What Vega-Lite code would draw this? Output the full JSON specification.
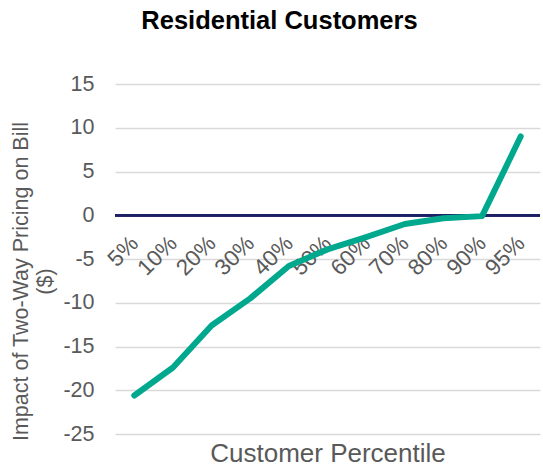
{
  "$schema": "https://vega.github.io/schema/vega-lite/v6.json",
  "width": 425,
  "height": 350,
  "autosize": {"type": "none"},
  "padding": {"left": 115, "top": 84, "right": 3, "bottom": 36},
  "background": "white",
  "config": {"font": "Liberation Sans", "view": {"stroke": null}},
  "title": {
    "text": "Residential Customers",
    "fontSize": 25.5,
    "fontWeight": "bold",
    "color": "#000000",
    "anchor": "middle",
    "frame": "bounds",
    "offset": 39,
    "dx": 4
  },
  "data": {
    "values": [
      {"percentile": "5%", "impact": -20.6},
      {"percentile": "10%", "impact": -17.4},
      {"percentile": "20%", "impact": -12.6},
      {"percentile": "30%", "impact": -9.5},
      {"percentile": "40%", "impact": -5.8},
      {"percentile": "50%", "impact": -3.9},
      {"percentile": "60%", "impact": -2.5},
      {"percentile": "70%", "impact": -1.0},
      {"percentile": "80%", "impact": -0.35},
      {"percentile": "90%", "impact": -0.1},
      {"percentile": "95%", "impact": 9.0}
    ]
  },
  "layer": [
    {
      "mark": {"type": "rule", "color": "#1c2166", "strokeWidth": 2},
      "encoding": {"y": {"datum": 0, "type": "quantitative"}}
    },
    {
      "mark": {
        "type": "line",
        "color": "#00a88e",
        "strokeWidth": 6,
        "strokeCap": "round",
        "strokeJoin": "round"
      },
      "encoding": {
        "x": {
          "field": "percentile",
          "type": "ordinal",
          "sort": null,
          "scale": {"type": "point", "padding": 0.5},
          "axis": {
            "title": "Customer Percentile",
            "titleFontSize": 26,
            "titleFontWeight": "normal",
            "titleColor": "#595959",
            "titleY": 246,
            "titleBaseline": "alphabetic",
            "offset": -218.5,
            "domain": false,
            "ticks": false,
            "tickSize": 0,
            "grid": false,
            "labelAngle": -45,
            "labelAlign": "right",
            "labelBaseline": "middle",
            "labelPadding": 24,
            "labelFontSize": 22.5,
            "labelColor": "#595959"
          }
        },
        "y": {
          "field": "impact",
          "type": "quantitative",
          "scale": {"domain": [-25, 15], "nice": false, "zero": false},
          "axis": {
            "title": ["Impact of Two-Way Pricing on  Bill", "($)"],
            "titleFontSize": 21.5,
            "titleFontWeight": "normal",
            "titleColor": "#595959",
            "titleX": -105,
            "titleY": 197,
            "titleAngle": -90,
            "titleAlign": "center",
            "titleBaseline": "top",
            "titleLineHeight": 24,
            "values": [-25, -20, -15, -10, -5, 0, 5, 10, 15],
            "labelExpr": "replace(datum.label, '\u2212', '-')",
            "domain": false,
            "ticks": false,
            "grid": true,
            "gridColor": "#d9d9d9",
            "gridWidth": 1.5,
            "labelPadding": 21,
            "labelFontSize": 21.5,
            "labelColor": "#595959"
          }
        }
      }
    }
  ]
}
